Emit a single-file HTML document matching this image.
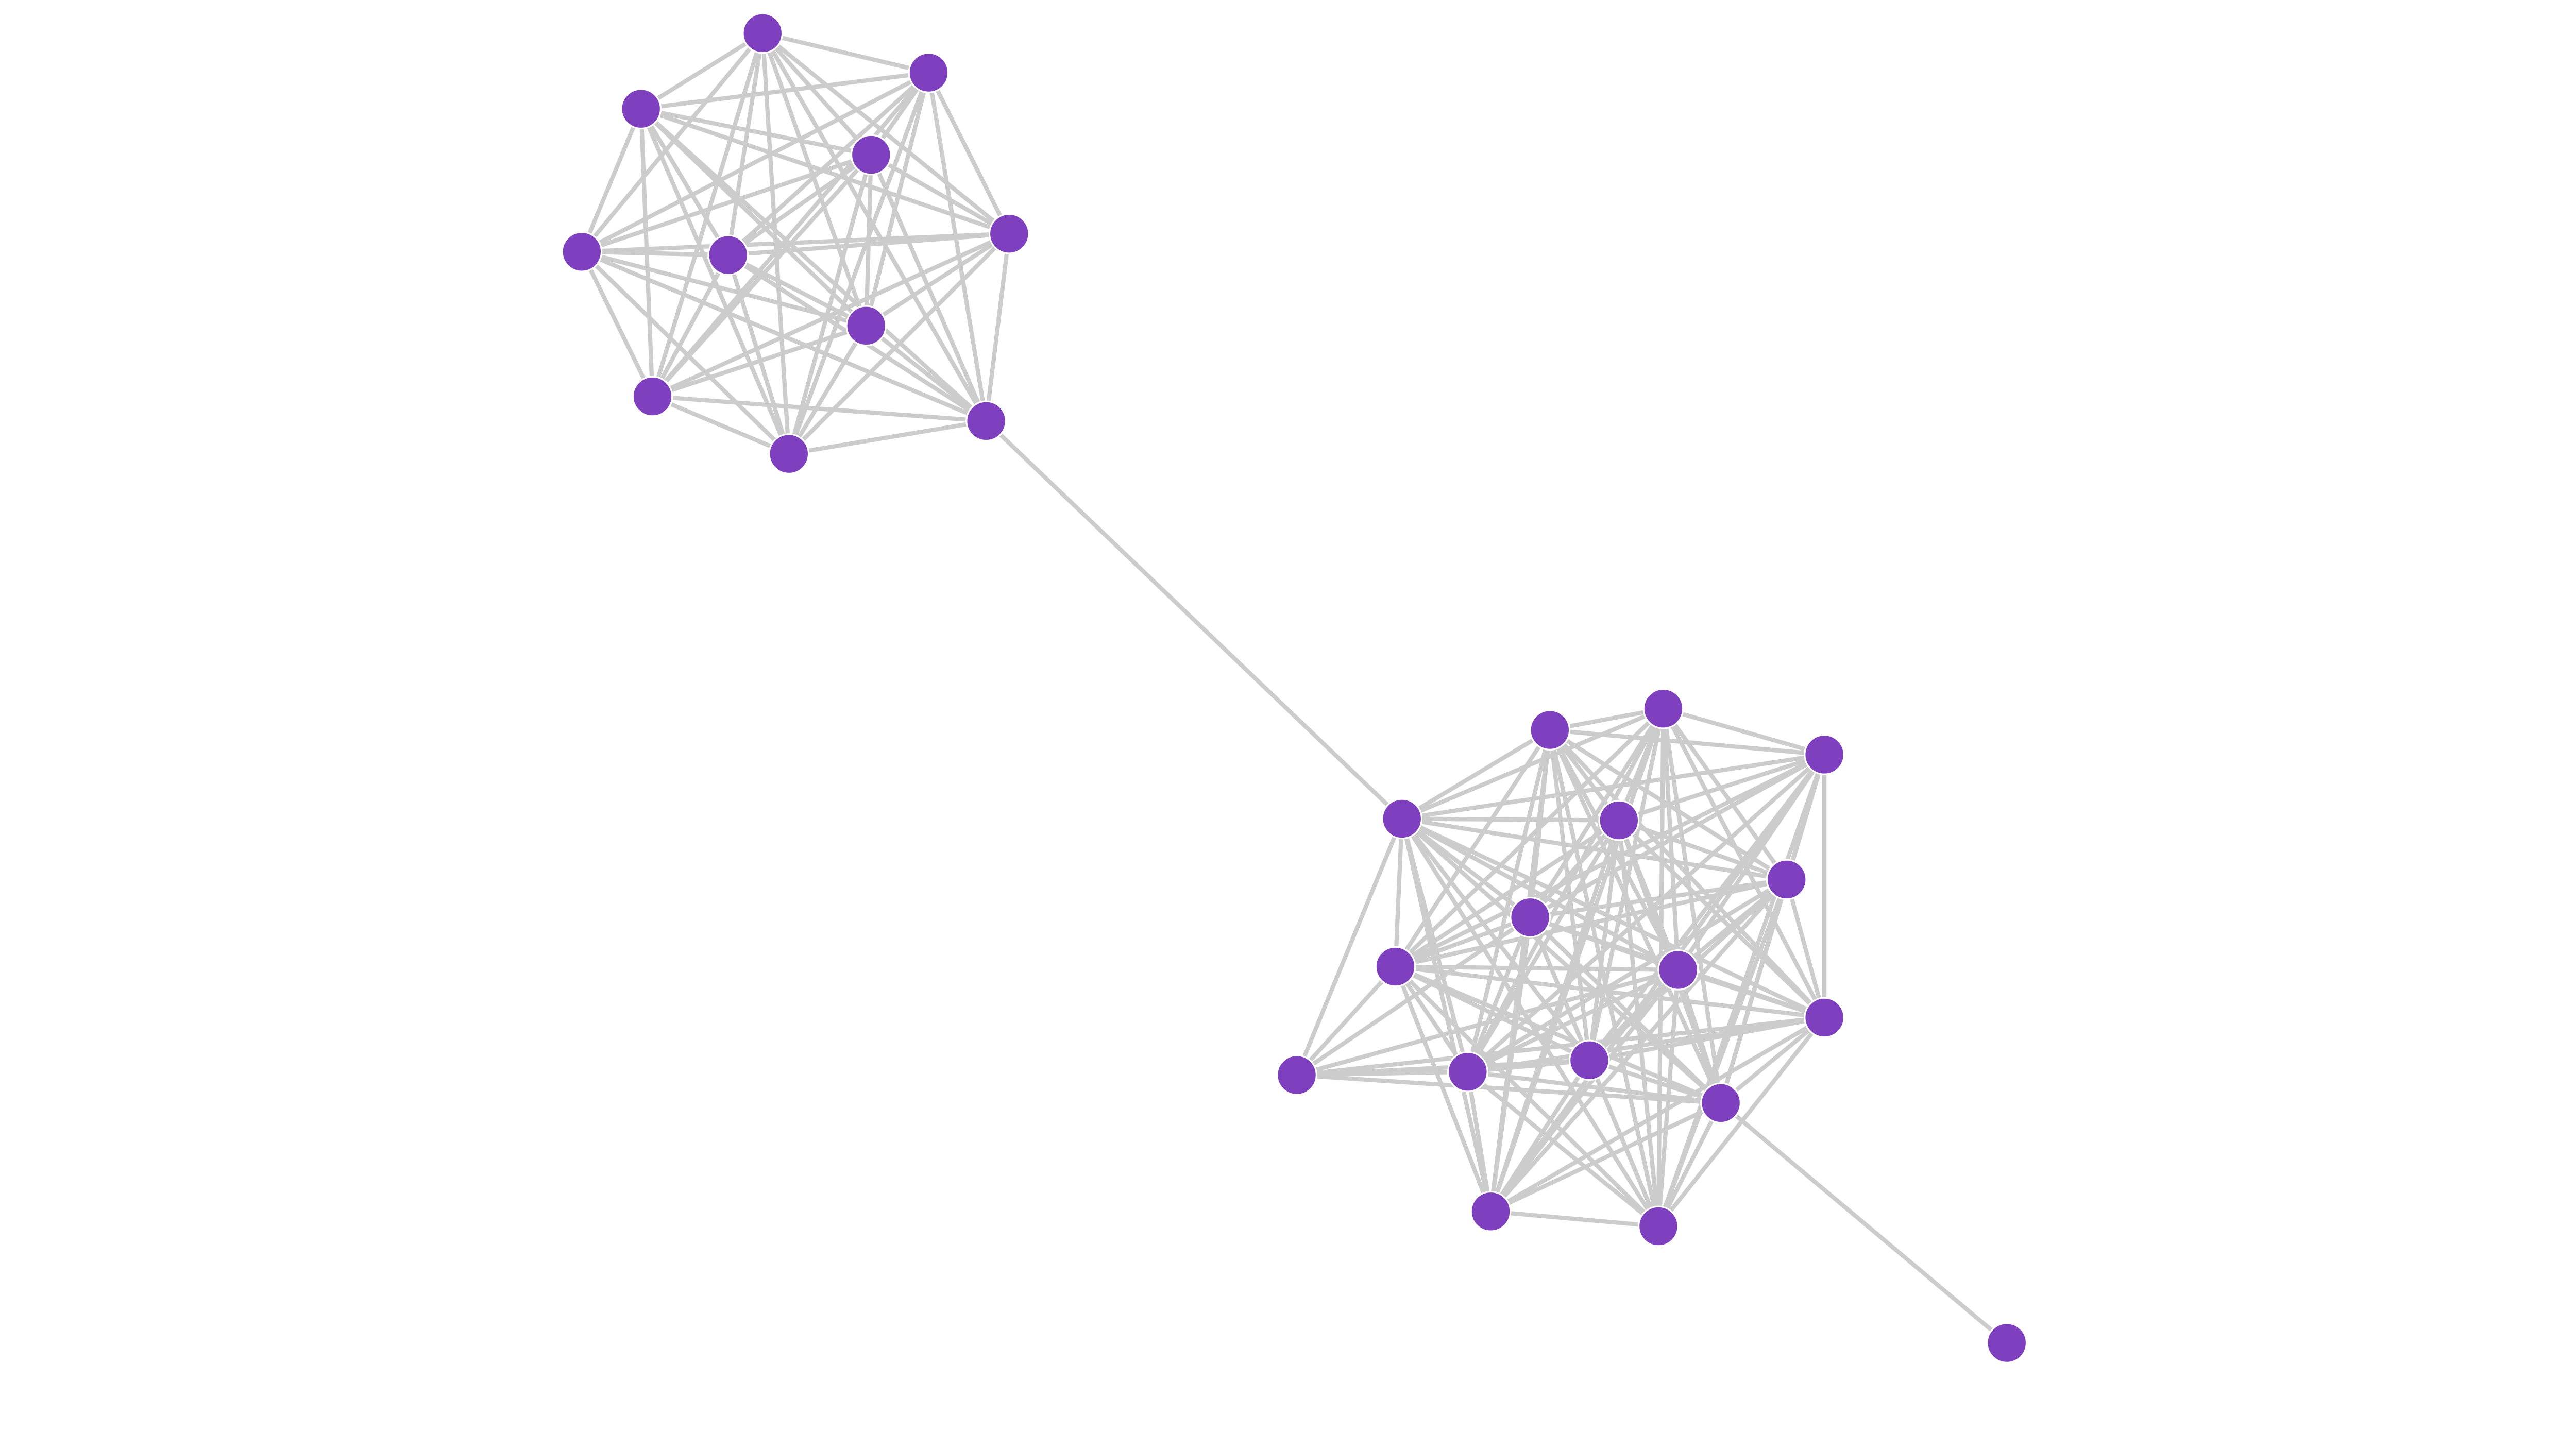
<!DOCTYPE html>
<html><head><meta charset="utf-8"><style>
html,body{margin:0;padding:0;background:#fff;width:5200px;height:2780px;overflow:hidden}
svg{display:block}
</style></head><body>
<svg id="g" width="5200" height="2780" viewBox="0 0 1630 871" xmlns="http://www.w3.org/2000/svg"></svg>
<script>
var c1=[[464,20],[565,44],[390,66],[530,94],[614,142],[354,153],[443,155],[527,198],[397,241],[600,256],[480,276]];
var c2=[[853,498],[943,444],[1012,431],[1110,459],[985,499],[1087,535],[931,558],[849,588],[1021,590],[1110,619],[789,654],[893,652],[967,645],[1047,671],[907,737],[1009,746]];
var skip={"10-3":1,"10-5":1,"10-14":1,"10-15":1,"10-1":1,"10-2":1,"10-4":1};
var extra=[[[600,256],[853,498]],[[1047,671],[1221,817]]];
var s='';
function L(a,b){s+='<line x1="'+a[0]+'" y1="'+a[1]+'" x2="'+b[0]+'" y2="'+b[1]+'" stroke="#cccccc" stroke-width="2.6"/>';}
for(var i=0;i<c1.length;i++)for(var j=i+1;j<c1.length;j++)L(c1[i],c1[j]);
for(var i=0;i<c2.length;i++)for(var j=i+1;j<c2.length;j++){if(skip[i+'-'+j]||skip[j+'-'+i])continue;L(c2[i],c2[j]);}
extra.forEach(function(e){L(e[0],e[1]);});
c1.concat(c2).concat([[1221,817]]).forEach(function(p){s+='<circle cx="'+p[0]+'" cy="'+p[1]+'" r="12" fill="#7f40bf" stroke="#fff" stroke-width="1"/>';});
document.getElementById('g').innerHTML=s;
</script>
</body></html>
